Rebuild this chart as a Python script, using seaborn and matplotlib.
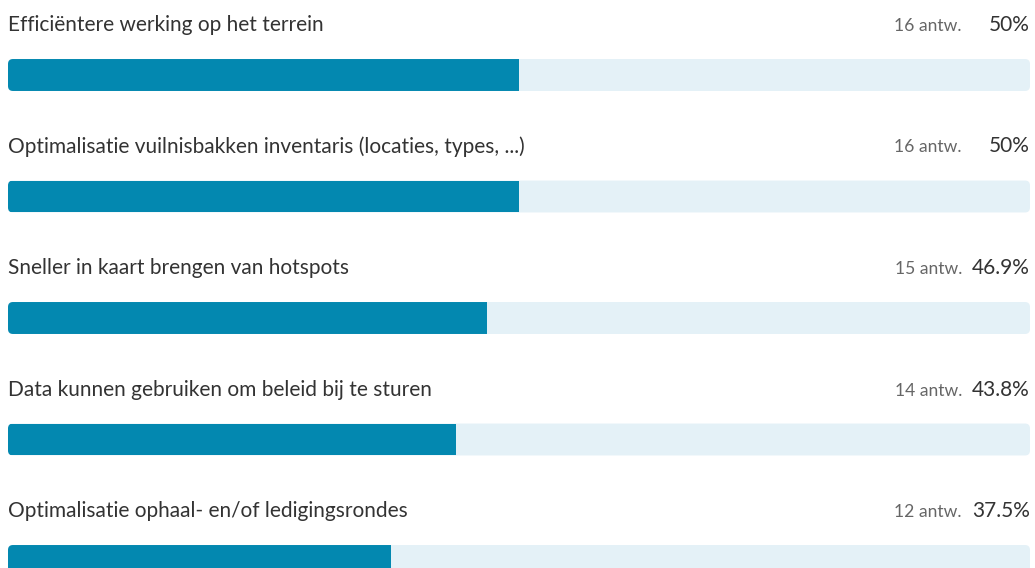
import matplotlib
matplotlib.use("Agg")
import matplotlib.pyplot as plt
from matplotlib.patches import FancyBboxPatch
import seaborn as sns
import pandas as pd

labels = [
    "Efficiëntere werking op het terrein",
    "Optimalisatie vuilnisbakken inventaris (locaties, types, ...)",
    "Sneller in kaart brengen van hotspots",
    "Data kunnen gebruiken om beleid bij te sturen",
    "Optimalisatie ophaal- en/of ledigingsrondes",
]
answers = [16, 16, 15, 14, 12]
percent = [50, 50, 46.9, 43.8, 37.5]
pct_text = ["50%", "50%", "46.9%", "43.8%", "37.5%"]

sns.set_style("white")
plt.rcParams["font.family"] = ["Lato", "DejaVu Sans"]

BLUE = "#0388b0"
TRACK = "#e4f1f7"

fig = plt.figure(figsize=(10.35, 5.68), dpi=100)
ax = fig.add_axes([0, 0, 1, 1])

df = pd.DataFrame({"label": labels, "pct": percent, "full": [100] * len(labels)})

sns.barplot(data=df, x="full", y="label", orient="h", color=TRACK, width=0.263, ax=ax)
sns.barplot(data=df, x="pct", y="label", orient="h", color=BLUE, width=0.263, ax=ax)

# pixel scale: 10.22 px per percent, 121.5 px per row
px_x = 10.22
px_y = 121.5
ax.set_xlim(-8 / px_x, 100 + 5 / px_x)
top = -75 / px_y
ax.set_ylim(top + 568 / px_y, top)

aspect = px_x / px_y
rad = 5 / px_x
n = len(labels)
for i, p in enumerate(list(ax.patches)):
    x0, y0 = p.get_x(), p.get_y()
    w, h = p.get_width(), p.get_height()
    p.set_visible(False)
    if i < n:
        fb = FancyBboxPatch((x0, y0), w, h, boxstyle=f"round,pad=0,rounding_size={rad}",
                            mutation_aspect=aspect, fc=TRACK, ec="none", zorder=2)
        ax.add_patch(fb)
    else:
        fb = FancyBboxPatch((x0, y0), w + 2, h, boxstyle=f"round,pad=0,rounding_size={rad}",
                            mutation_aspect=aspect, fc=BLUE, ec="none", zorder=3)
        ax.add_patch(fb)
        fb.set_clip_path(p)

for i, lab in enumerate(labels):
    ty = i - 50 / px_y
    ax.text(0, ty, lab, ha="left", va="center", fontsize=15, color="#333333")
    ax.text(100, ty, pct_text[i], ha="right", va="center", fontsize=15, color="#333333")
    ax.text((962 - 8) / px_x, ty + 1 / px_y, f"{answers[i]} antw.", ha="right", va="center",
            fontsize=12.6, color="#666666")

ax.axis("off")
fig.savefig("out.png", dpi=100)
